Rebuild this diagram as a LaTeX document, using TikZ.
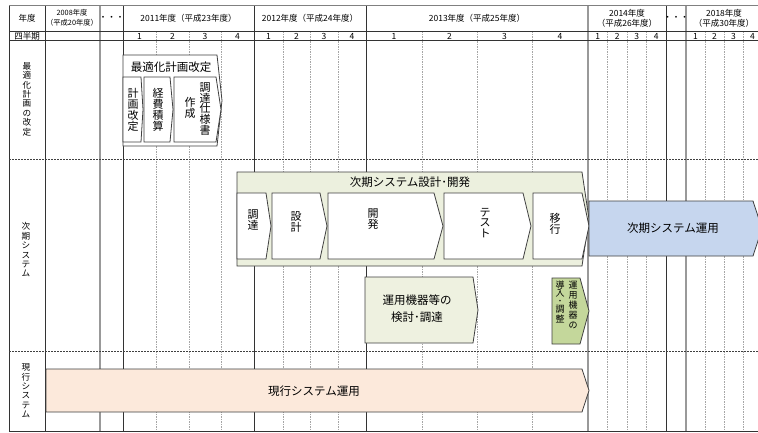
\documentclass[tikz,border=0pt]{standalone}
\usepackage{fontspec}
\setmainfont{Noto Sans CJK JP}
\definecolor{khaki1}{RGB}{236,240,222}
\definecolor{khaki2}{RGB}{238,241,224}
\definecolor{green1}{RGB}{196,215,155}
\definecolor{blue1}{RGB}{198,214,238}
\definecolor{peach1}{RGB}{252,233,219}
\newcommand\pentbox[6]{\draw[#6] (#1,#2) -- (#3,#2) -- (#4,{(#2+#5)/2}) -- (#3,#5) -- (#1,#5) -- cycle;}
\begin{document}
\begin{tikzpicture}[x=1pt,y=-1pt,
  yline/.style={draw=black!80, line width=0.8pt},
  grayline/.style={draw=black!40, line width=1.8pt},
  qline/.style={draw=black!35, line width=0.8pt, dash pattern=on 1.5pt off 1pt},
  divline/.style={draw=black!75, line width=0.8pt, dash pattern=on 2pt off 1pt},
  pbox/.style={draw=black!75, line width=0.8pt},
  lbl/.style={font=\fontsize{8.6}{9.4}\selectfont, align=center, inner sep=0pt},
  hdr/.style={font=\fontsize{8.5}{9.8}\selectfont, align=center, inner sep=0pt},
  shdr/.style={font=\fontsize{7.3}{10}\selectfont, align=center, inner sep=0pt},
  vtext/.style={font=\fontsize{11}{10.9}\selectfont, align=center, inner sep=0pt},
  ttl/.style={font=\fontsize{11.5}{12}\selectfont, align=center, inner sep=0pt},
  small/.style={font=\fontsize{9}{10}\selectfont, align=center, inner sep=0pt},
]
\useasboundingbox (0,0) rectangle (758,432);
\fill[white] (0,0) rectangle (758,432);

% grid lines
\foreach \x in {156,189,221,283,310,338,422,477,532,607.5,627,646.5,705,724,743}
  \draw[qline] (\x,31) -- (\x,431);
\foreach \x in {9,45,123,254,366,666}
  \draw[yline] (\x,5) -- (\x,431);
\foreach \x in {100,588,686}
  \draw[grayline] (\x,5) -- (\x,431);
\draw[yline, draw=black!50] (9,5) -- (758,5);
\draw[yline] (9,31) -- (758,31);
\draw[yline] (9,40) -- (758,40);
\draw[yline] (9,431) -- (758,431);
\draw[divline] (9,159.5) -- (758,159.5);
\draw[divline] (9,351) -- (758,351);

% header
\node[hdr] (h0) at (27,18) {年度};
\node[shdr] (h1) at (72,18) {2008年度\\（平成20年度）};
\node[hdr] (h2) at (111.5,18) {・・・};
\node[hdr] (h3) at (188.5,18) {2011年度（平成23年度）};
\node[hdr] (h4) at (310,18) {2012年度（平成24年度）};
\node[hdr] (h5) at (477,18) {2013年度（平成25年度）};
\node[hdr] (h6) at (627,18) {2014年度\\（平成26年度）};
\node[hdr] (h7) at (676,18) {・・・};
\node[hdr] (h8) at (724,18) {2018年度\\（平成30年度）};
\node[hdr] (q0) at (27,36) {四半期};
\foreach \x/\n [count=\i] in {139.5/1,172.5/2,205/3,237.5/4,268.5/1,296.5/2,324/3,352/4,394/1,449.5/2,504.5/3,560/4,597.75/1,617.25/2,636.75/3,656.25/4,695.5/1,714.5/2,733.5/3,752.5/4}
  \node[hdr] (q\i) at (\x,36) {\n};

% row labels
\node[lbl] (r1) at (27,99) {最\\適\\化\\計\\画\\の\\改\\定};
\node[lbl] (r2) at (26,250) {次\\期\\シ\\ス\\テ\\ム};
\node[lbl] (r3) at (26,391) {現\\行\\シ\\ス\\テ\\ム};

% 最適化計画改定
\pentbox{123}{55}{217}{222}{146}{pbox, fill=white}
\pentbox{123}{77}{141}{143}{142}{pbox, fill=white}
\pentbox{144}{77}{170}{173}{142}{pbox, fill=white}
\pentbox{174}{77}{216}{221}{142}{pbox, fill=white}
\node[ttl] (a0) at (171,67) {最適化計画改定};
\node[vtext] (a1) at (133,110) {計\\画\\改\\定};
\node[vtext] (a2) at (158,110) {経\\費\\積\\算};
\node[vtext] (a3) at (205,109) {調\\達\\仕\\様\\書};
\node[vtext] (a4) at (190,108) {作\\成};

% 次期システム設計・開発
\pentbox{237}{172}{582}{589}{266}{pbox, fill=khaki1}
\pentbox{237}{193}{266}{271}{259}{pbox, fill=white}
\pentbox{272}{193}{320}{327}{259}{pbox, fill=white}
\pentbox{328}{193}{434}{443}{259}{pbox, fill=white}
\pentbox{444}{193}{523}{531}{259}{pbox, fill=white}
\pentbox{533}{193}{582}{589}{259}{pbox, fill=white}
\node[ttl] (b0) at (410,182) {次期システム設計･開発};
\node[vtext] (b1) at (253,220) {調\\達};
\node[vtext] (b2) at (296,222) {設\\計};
\node[vtext] (b3) at (373,219) {開\\発};
\node[vtext] (b4) at (485,223) {テ\\ス\\ト};
\node[vtext] (b5) at (555,224) {移\\行};

% 次期システム運用
\pentbox{589}{201}{753}{762}{256}{pbox, fill=blue1}
\node[ttl] (c0) at (673,228) {次期システム運用};

% 運用機器等の検討・調達
\pentbox{365}{277}{473}{478}{343}{pbox, fill=khaki2}
\node[font=\fontsize{11.5}{17}\selectfont, align=center, inner sep=0pt] (d0) at (417,309) {運用機器等の\\検討･調達};

% 運用機器の導入・調整
\pentbox{552}{278}{580}{589}{344}{pbox, fill=green1}
\node[small] (e0) at (573,305) {運\\用\\機\\器\\の};
\node[font=\fontsize{9}{8}\selectfont, align=center, inner sep=0pt] (e1) at (560,302) {導\\入\\･\\調\\整};

% 現行システム運用
\pentbox{46}{369}{582}{589}{412}{pbox, fill=peach1}
\node[ttl] (f0) at (314,391) {現行システム運用};
\end{tikzpicture}
\end{document}
